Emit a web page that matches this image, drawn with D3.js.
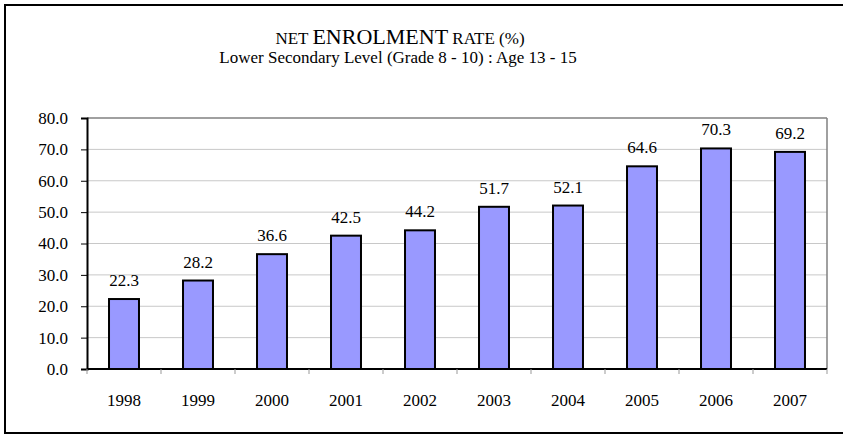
<!DOCTYPE html>
<html><head><meta charset="utf-8">
<script src="https://cdn.jsdelivr.net/npm/d3@7"></script>
<style>body{margin:0;background:#fff}svg{display:block}
svg text{font-family:"Liberation Serif","Times New Roman",Times,"DejaVu Serif",serif !important;}</style>
</head><body>
<svg id="c" width="843" height="435"></svg>
<script>
const years = ["1998","1999","2000","2001","2002","2003","2004","2005","2006","2007"];
const rates = [22.3, 28.2, 36.6, 42.5, 44.2, 51.7, 52.1, 64.6, 70.3, 69.2];
const yTicks = [0,10,20,30,40,50,60,70,80];

const svg = d3.select("#c");
const L = 87, R = 827, T = 118, B = 369;

svg.append("rect").attr("x",5).attr("y",5).attr("width",860).attr("height",428)
  .attr("fill","#fff").attr("stroke","#000").attr("stroke-width",2);

const x = d3.scaleBand().domain(years).range([L,R]).paddingInner(0.595).paddingOuter(0.2975);
const y = d3.scaleLinear().domain([0,80]).range([B,T]);

svg.append("g").selectAll("line").data(yTicks.filter(d=>d>0&&d<80)).join("line")
  .attr("x1",L).attr("x2",R).attr("y1",d=>y(d)).attr("y2",d=>y(d))
  .attr("stroke","#c8c8c8").attr("stroke-width",1);
svg.append("line").attr("x1",L).attr("x2",R).attr("y1",y(80)).attr("y2",y(80)).attr("stroke","#808080").attr("stroke-width",1.5);
svg.append("line").attr("x1",R).attr("x2",R).attr("y1",T).attr("y2",B).attr("stroke","#808080").attr("stroke-width",1.5);

svg.append("g").selectAll("rect").data(rates).join("rect")
  .attr("x",(d,i)=>x(years[i])).attr("width",x.bandwidth())
  .attr("y",d=>y(d)).attr("height",d=>B-y(d))
  .attr("fill","#9999ff").attr("stroke","#000").attr("stroke-width",2);

svg.append("g").selectAll("text").data(rates).join("text")
  .attr("x",(d,i)=>x(years[i])+x.bandwidth()/2).attr("y",d=>y(d)-13)
  .attr("text-anchor","middle").attr("font-size",17)
  .text(d=>d.toFixed(1));

const yAxis = d3.axisLeft(y).tickValues(yTicks).tickFormat(d3.format(".1f")).tickSize(6).tickPadding(13);
const gy = svg.append("g").attr("transform",`translate(${L},0)`).call(yAxis);
gy.select(".domain").attr("stroke","#000").attr("stroke-width",2);
gy.selectAll(".tick line").attr("stroke","#000");
gy.selectAll("text").attr("font-size",17).attr("fill","#000");

const xb = d3.scalePoint().domain(d3.range(11)).range([L,R]);
const gx = svg.append("g").attr("transform",`translate(0,${B})`);
gx.append("line").attr("x1",L).attr("x2",R).attr("stroke","#000").attr("stroke-width",2);
gx.selectAll("line.t").data(d3.range(11)).join("line").attr("class","t")
  .attr("x1",d=>xb(d)).attr("x2",d=>xb(d)).attr("y1",0).attr("y2",5).attr("stroke","#999");
gx.selectAll("text").data(years).join("text")
  .attr("x",d=>x(d)+x.bandwidth()/2).attr("y",37)
  .attr("text-anchor","middle").attr("font-size",17).text(d=>d);

const t = svg.append("text").attr("x",400).attr("y",44).attr("text-anchor","middle");
t.append("tspan").attr("font-size",17).text("NET ");
t.append("tspan").attr("font-size",22).text("ENROLMENT");
t.append("tspan").attr("font-size",17).text(" RATE (%)");
svg.append("text").attr("x",398).attr("y",63).attr("text-anchor","middle")
  .attr("font-size",17).text("Lower Secondary Level (Grade 8 - 10) : Age 13 - 15");
</script>
</body></html>
